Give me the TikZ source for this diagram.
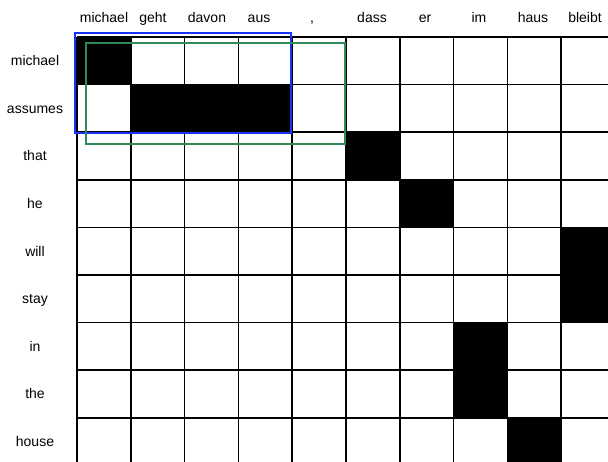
\documentclass[tikz,border=0pt]{standalone}
\usepackage{fontspec}
\setmainfont{Liberation Sans}
\usepackage{xcolor}
\usepackage{tikz}
\usetikzlibrary{positioning}

\definecolor{boxblue}{RGB}{20,50,250}
\definecolor{boxgreen}{RGB}{46,139,87}

\begin{document}
\begin{tikzpicture}[
    x=1pt, y=-1pt,
    word/.style={font=\fontsize{14}{16}\selectfont, inner sep=0pt, anchor=base},
    gridline/.style={black, line width=1.6pt},
    link/.style={fill=black},
    phrase/.style={line width=2pt}
]
    \useasboundingbox (0,0) rectangle (608,462);
    \clip (0,0) rectangle (608,462);
    \def\cw{53.8}
    \def\ch{47.6}

    % Alignment points
    \foreach \r/\c in {0/0, 1/1, 1/2, 1/3, 2/5, 3/6, 4/9, 5/9, 6/7, 7/7, 8/8}
        \fill[link] ({77+\c*\cw},{37+\r*\ch}) rectangle ++(\cw,\ch);

    % Grid
    \foreach \c in {0,...,10}
        \draw[gridline] ({77+\c*\cw},37) -- ({77+\c*\cw},470);
    \foreach \r in {0,...,9}
        \draw[gridline] (77,{37+\r*\ch}) -- (620,{37+\r*\ch});

    % Foreign words
    \foreach \w/\x [count=\i] in {michael/104, geht/153, davon/207, aus/259, {,}/312,
                                  dass/372, er/425, im/479, haus/533, bleibt/585}
        \node[word] (f\i) at (\x,23) {\w};

    % English words
    \foreach \w [count=\i from 0] in {michael, assumes, that, he, will, stay, in, the, house}
        \node[word] (e\i) at (35,{37+(\i+0.5)*\ch+5}) {\w};

    % Phrase pairs
    \draw[phrase, boxblue] (75,33) rectangle (291,133);
    \draw[phrase, boxgreen] (86,43) rectangle (345,144);
\end{tikzpicture}
\end{document}
